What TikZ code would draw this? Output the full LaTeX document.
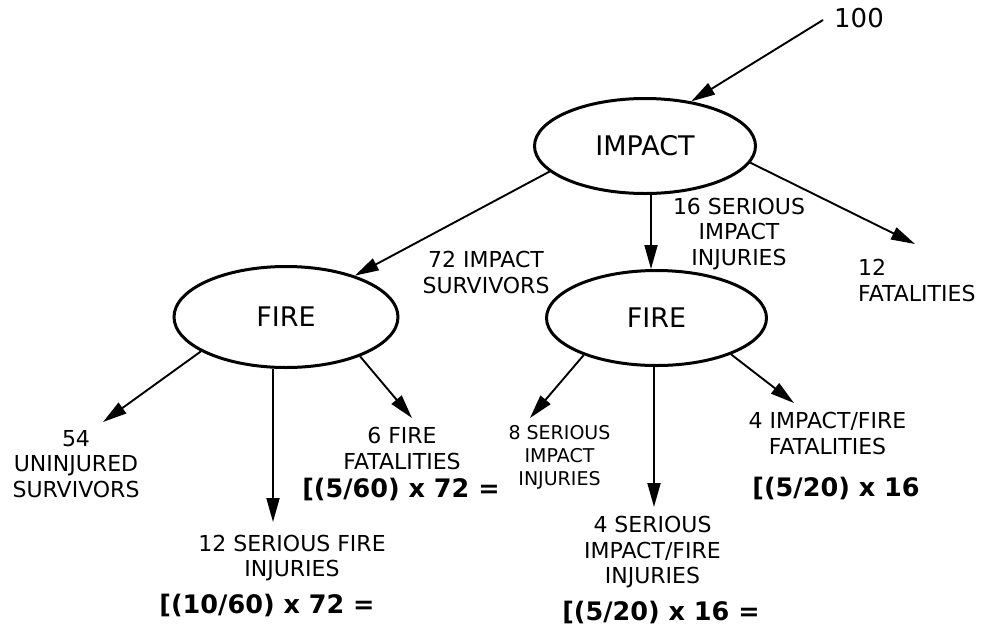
\documentclass[tikz,border=0pt]{standalone}
\usepackage{fontspec}
\setmainfont{DejaVu Sans}
\usetikzlibrary{arrows.meta,shapes.geometric}

\tikzset{
  event/.style={ellipse, draw, line width=3pt, inner sep=0pt,
    font=\fontsize{27}{30}\selectfont},
  flow/.style={line width=1.9pt, -{Triangle[length=24pt,width=13pt]}},
  lbl/.style={inner sep=0pt, align=center, font=\fontsize{22}{25.5}\selectfont},
  lblsmall/.style={inner sep=0pt, align=center, font=\fontsize{19}{23}\selectfont},
  calc/.style={inner sep=0pt, font=\fontsize{25.5}{28}\selectfont\bfseries},
}

\begin{document}
\begin{tikzpicture}[x=1pt, y=-1pt]
\useasboundingbox (0,0) rectangle (985,625);

% event nodes
\node[event, minimum width=221pt, minimum height=95pt] (impact) at (645,146) {IMPACT};
\node[event, minimum width=224pt, minimum height=101pt] (fireA) at (286,317) {FIRE};
\node[event, minimum width=220pt, minimum height=95pt] (fireB) at (656.5,318) {FIRE};

% reference numeral
\node[inner sep=0pt, font=\fontsize{26}{30}\selectfont] (ref) at (859,18) {100};
\coordinate (refend) at (823,20);

% labels
\node[lbl] (survivors) at (486,272.5) {72 IMPACT\\SURVIVORS};
\node[lbl] (serious16) at (739,234) {16 SERIOUS\\IMPACT\\INJURIES};
\node[lbl, align=left, anchor=west] (fatal12) at (858,280.5) {12\\FATALITIES};
\node[lbl] (uninjured) at (76,464) {54\\UNINJURED\\SURVIVORS};
\node[lbl] (firefatal) at (402,448.5) {6 FIRE\\FATALITIES};
\node[calc] (calcA) at (401,489) {[(5/60) x 72 =};
\node[lbl] (firesev) at (292,558) {12 SERIOUS FIRE\\INJURIES};
\node[calc] (calcB) at (267,605) {[(10/60) x 72 =};
\node[lblsmall] (serious8) at (559.5,457) {8 SERIOUS\\IMPACT\\INJURIES};
\node[lbl] (serious4) at (652.5,552.5) {4 SERIOUS\\IMPACT/FIRE\\INJURIES};
\node[calc] (calcC) at (661,612) {[(5/20) x 16 =};
\node[lbl] (bothfatal) at (827.5,433.5) {4 IMPACT/FIRE\\FATALITIES};
\node[calc] (calcD) at (836,488) {[(5/20) x 16};

% arrow end points
\coordinate (tFatal) at (915,244);
\coordinate (tUninj) at (103,422);
\coordinate (tFireSev) at (273,522);
\coordinate (tFireFatal) at (412,418);
\coordinate (tSer8) at (530,418);
\coordinate (tSer4) at (654,507);
\coordinate (tBoth) at (794,403);

% connectors
\draw[flow] (refend) -- (impact.44);
\draw[flow] (impact.195) -- (fireA.31);
\draw[flow] (impact.277) -- (impact.277 |- fireB.north);
\draw[flow] (impact.351.5) -- (tFatal);
\draw[flow] (fireA.202) -- (tUninj);
\draw[flow] (tFireSev |- fireA.south) -- (tFireSev);
\draw[flow] (fireA.332.5) -- (tFireFatal);
\draw[flow] (fireB.207.6) -- (tSer8);
\draw[flow] (tSer4 |- fireB.south) -- (tSer4);
\draw[flow] (fireB.334.8) -- (tBoth);
\end{tikzpicture}
\end{document}
